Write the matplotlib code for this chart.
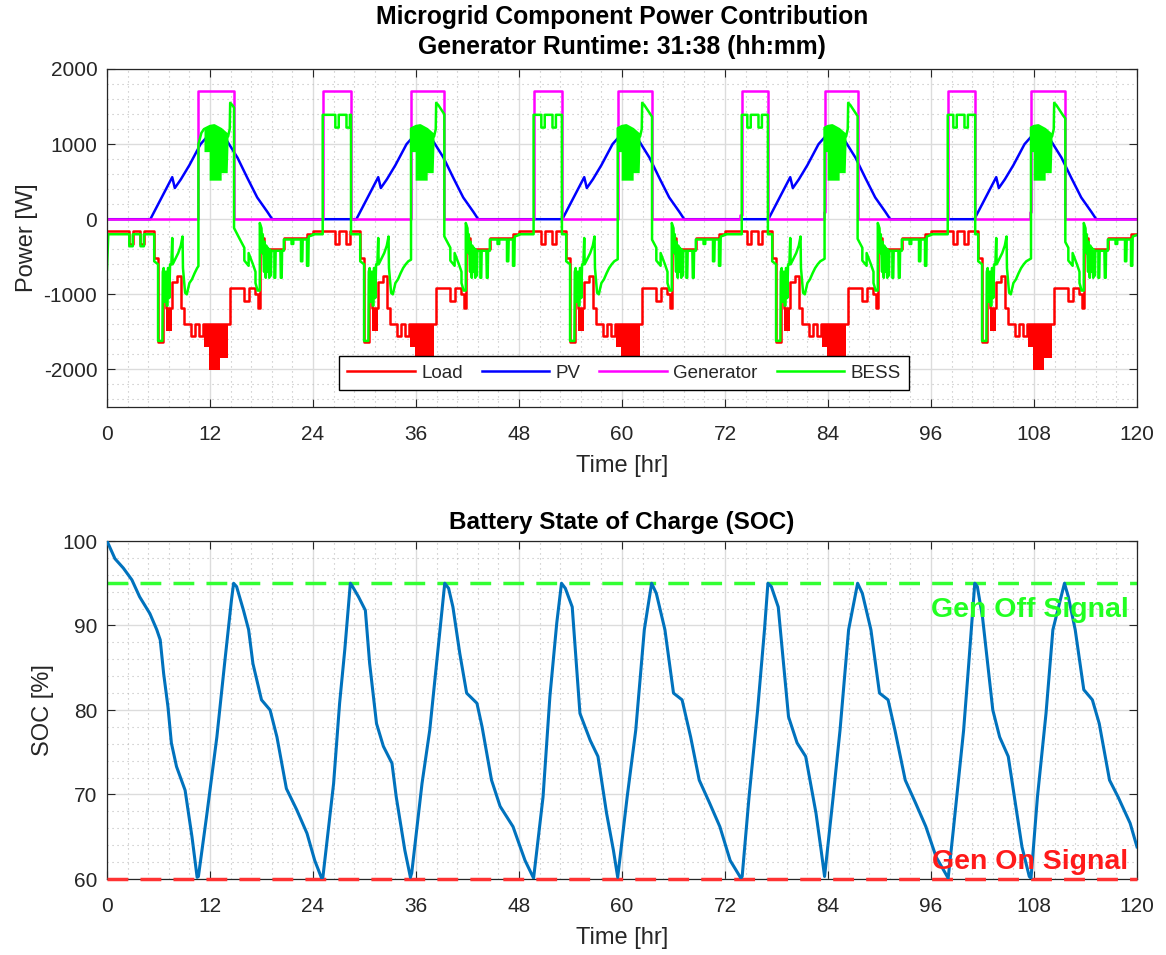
import numpy as np
import matplotlib
matplotlib.use('Agg')
import matplotlib.pyplot as plt
from matplotlib.ticker import MultipleLocator

# ------------------------------------------------------------------ data
DAY_STARTS = [0, 24, 48, 72, 96]

# Load: daily step profile (hour of day -> W, held until next step)
LOAD_STEP_T = [0.0, 2.6, 3.0, 3.9, 4.3, 5.5, 5.95, 6.55, 6.85, 7.6, 8.1, 8.65, 9.0,
               9.8, 10.2, 10.7, 11.2, 14.3, 16.0, 16.5, 17.3, 17.55, 17.8, 18.3, 20.6, 23.3]
LOAD_STEP_P = [-160, -330, -160, -330, -160, -520, -1640, -850, -1180, -830, -760, -1180, -1400,
               -1550, -1400, -1550, -1400, -915, -1090, -915, -1000, -1180, -250, -400, -245, -200]
# rapidly switching load (drawn as filled band): hour of day, lower envelope
LOAD_BLOB_T = [11.3, 11.85, 11.85, 13.2, 13.2, 14.05]
LOAD_BLOB_LO = [-1700, -1700, -2010, -2010, -1850, -1850]
LOAD_BLOB_HI = -1400
LOAD_MBLOB_T = [6.85, 7.6]
LOAD_MBLOB_LO = [-1490, -1490]
LOAD_MBLOB_HI = -1180

# PV: daily profile
PV_T = [0.0, 5.05, 7.6, 7.9, 8.6, 9.6, 10.9, 11.6, 12.3, 13.1, 14.0, 15.2, 16.35, 17.5, 18.7, 19.25, 24.0]
PV_P = [0, 0, 560, 415, 530, 720, 1000, 1090, 1140, 1110, 1040, 820, 550, 290, 95, 0, 0]

# Generator on/off windows [hr] and power [W]
GEN_ON = [10.65, 25.13, 35.42, 49.7, 59.5, 73.95, 83.6, 97.95, 107.65]
GEN_OFF = [14.8, 28.43, 39.3, 53.0, 63.5, 77.0, 87.45, 101.15, 111.65]
GEN_LEVEL = 1710
GEN_PRE_T = [73.75, 83.5, 107.5]      # short low-power start-up steps
GEN_PRE_P = [50, 100, 100]

# BESS: pieces of the daily pattern (hour of day -> W)
BESS_START_T = [0.0]
BESS_START_P = [-670]
NIGHT_T = [0.0, 2.6, 2.6, 3.0, 3.0, 3.9, 3.9, 4.3, 4.3, 5.5]
NIGHT_P = [-200, -200, -360, -360, -200, -200, -360, -360, -200, -200]
NIGHT_GEN_T = [0.0, 2.6, 2.6, 3.0, 3.0, 3.9, 3.9, 4.3, 4.3, 8.0]
NIGHT_GEN_P = [1390, 1390, 1220, 1220, 1390, 1390, 1220, 1220, 1390, 1390]
MORN_T = [5.5, 5.95, 5.95, 6.45, 6.5, 6.6, 6.65, 6.75, 6.8, 6.9, 6.95, 7.05, 7.1, 7.2, 7.25,
          7.35, 7.5, 7.6, 7.65, 8.0, 8.3, 8.6, 8.8, 8.85, 9.1, 9.3, 9.6, 9.9, 10.2, 10.5, 10.8,
          11.1, 11.4, 11.7, 12.0]
MORN_P = [-560, -600, -1620, -1620, -700, -650, -1100, -1100, -700, -700, -1150, -1150, -650,
          -650, -1050, -600, -600, -250, -600, -520, -450, -350, -230, -650, -980, -1000, -850,
          -800, -720, -650, -600, -560, -540, -520, -520]
NOON_T = [10.65, 11.0, 11.3, 12.0, 12.5, 13.3, 14.0, 14.1, 14.3, 14.35, 14.6, 15.0, 15.4, 15.8, 16.0]
NOON_P = [1000, 1150, 1200, 1240, 1250, 1200, 1130, 1100, 1200, 1550, 1520, 1450, 1380, 1320, 1300]
BLOB_T = [11.3, 11.9, 11.9, 12.5, 13.3, 13.3, 14.0, 14.1]
BLOB_TOP = [1200, 1240, 1240, 1250, 1200, 1200, 1130, 1100]
BLOB_BOT = [900, 900, 520, 520, 520, 620, 620, 1000]
AFT_T = [14.5, 15.4, 16.0, 16.0, 16.5, 16.5, 17.0, 17.3, 17.3, 17.55, 17.8]
AFT_P = [-50, -250, -380, -550, -620, -450, -600, -700, -850, -950, -950]
EVE_T = [17.8, 18.0, 18.1, 18.15, 18.3, 18.35, 18.5, 18.55, 18.7, 18.75, 18.9, 18.95, 19.1,
         19.15, 19.5, 19.5, 19.6, 19.65, 20.2, 20.25, 20.35, 20.4, 20.6, 20.6, 21.5, 21.5,
         21.7, 21.7, 22.6, 22.6, 22.75, 22.8, 23.3, 23.3, 23.45, 23.5, 24.0]
EVE_P = [-50, -120, -450, -200, -700, -300, -780, -350, -700, -380, -780, -400, -750, -420,
         -420, -780, -780, -420, -420, -780, -780, -420, -420, -270, -270, -330, -330, -270,
         -270, -560, -560, -270, -270, -620, -620, -230, -210]

# Battery state of charge [%]
SOC_T = [0, 0.93, 1.9, 2.9, 3.8, 5.0, 5.8, 6.2, 6.6, 7.1, 7.5, 8.1, 9.1, 9.9, 10.5, 10.65,
         11.6, 12.8, 13.7, 14.5, 14.75, 15.1, 15.9, 16.5, 17.0, 18.0, 19.0, 19.8, 20.9, 22.1,
         23.3, 24.2, 25.0, 25.15, 26.4, 27.1, 27.7, 28.35, 28.5, 29.3, 30.1, 30.6, 31.4, 32.2,
         33.2, 33.7, 34.7, 35.35, 35.5, 36.7, 37.6, 38.4, 39.0, 39.35, 39.8, 40.3, 41.1, 41.9,
         43.1, 43.7, 44.8, 45.8, 47.3, 48.7, 49.7, 50.8, 51.6, 52.4, 52.95, 53.4, 54.2, 55.1,
         56.3, 57.2, 58.2, 59.0, 59.5, 60.6, 61.6, 62.6, 63.45, 64.0, 65.0, 66.0, 67.0, 68.0,
         69.0, 70.2, 71.4, 72.6, 73.85, 74.0, 74.8, 75.8, 76.6, 77.0, 77.4, 78.2, 79.4, 80.4,
         81.4, 82.6, 83.2, 83.6, 84.6, 85.4, 86.4, 87.45, 88.0, 89.0, 90.0, 91.0, 91.8, 93.0,
         94.2, 95.4, 96.6, 98.0, 98.6, 99.8, 100.4, 101.1, 101.4, 102.0, 102.6, 103.2, 104.0,
         105.0, 106.0, 106.6, 107.45, 107.65, 108.4, 109.4, 110.2, 111.55, 112.0, 112.8, 113.8,
         114.8, 115.6, 116.8, 117.8, 119.2, 120.0]
SOC_V = [100, 97.9, 96.8, 95.4, 93.4, 91.4, 89.5, 88.3, 84.3, 80.4, 76.1, 73.3, 70.5, 65.0,
         60.2, 60.3, 67.4, 76.8, 85.5, 93.0, 95.0, 94.6, 91.8, 89.5, 85.5, 81.2, 80.0, 76.8,
         70.7, 68.2, 65.4, 62.2, 60.1, 60.2, 71.3, 80.8, 87.1, 95.0, 94.8, 93.4, 91.8, 85.5,
         78.4, 75.7, 73.7, 69.7, 63.4, 60.2, 60.7, 71.3, 77.6, 85.5, 91.4, 95.0, 94.4, 92.2,
         86.7, 82.0, 80.8, 78.0, 71.7, 68.6, 66.2, 62.2, 60.1, 69.7, 81.6, 90.3, 95.0, 94.4,
         92.2, 79.6, 76.4, 74.5, 67.8, 63.4, 60.2, 69.7, 77.6, 89.5, 95.0, 93.8, 89.5, 82.0,
         81.2, 76.8, 71.7, 69.0, 66.2, 62.2, 60.1, 60.3, 69.7, 80.0, 89.5, 95.0, 94.6, 92.2,
         79.2, 76.1, 74.5, 67.8, 63.4, 60.3, 69.7, 77.6, 89.5, 95.0, 93.8, 89.5, 82.0, 81.2,
         77.6, 71.7, 69.0, 66.2, 62.6, 60.1, 65.8, 77.6, 85.5, 95.0, 94.6, 91.0, 85.5, 80.0,
         76.8, 74.5, 67.8, 63.8, 60.3, 60.1, 69.7, 79.6, 89.5, 95.0, 93.4, 89.5, 82.4, 81.2,
         78.4, 71.7, 69.7, 66.6, 63.8]
SOC_GEN_OFF = 95
SOC_GEN_ON = 60

# ------------------------------------------------------------------ helpers
def piece(T, P, a, b, off):
    """Part of a read daily profile between hour a and b, shifted to day start off."""
    T = np.asarray(T, float)
    P = np.asarray(P, float)
    m = (T > a) & (T < b)
    ts = np.concatenate([[a], T[m], [b]]) + off
    ps = np.concatenate([[np.interp(a, T, P)], P[m], [np.interp(b, T, P)]])
    return list(ts), list(ps)


# Load series
load_t, load_p = [], []
for s in DAY_STARTS:
    load_t += [t + s for t in LOAD_STEP_T]
    load_p += LOAD_STEP_P
load_t.append(120.0)
load_p.append(LOAD_STEP_P[-1])

# PV series
pv_t, pv_p = [], []
for s in DAY_STARTS:
    pv_t += [t + s for t in PV_T]
    pv_p += PV_P

# Generator series
gen_t, gen_p = [0.0], [0.0]
pre = dict(zip([min(GEN_ON, key=lambda g: abs(g - p)) for p in GEN_PRE_T], zip(GEN_PRE_T, GEN_PRE_P)))
for on, off in zip(GEN_ON, GEN_OFF):
    if on in pre:
        pt, pp = pre[on]
        gen_t += [pt, pt]
        gen_p += [0, pp]
        gen_t += [on, on, off, off]
        gen_p += [pp, GEN_LEVEL, GEN_LEVEL, 0]
    else:
        gen_t += [on, on, off, off]
        gen_p += [0, GEN_LEVEL, GEN_LEVEL, 0]
gen_t.append(120.0)
gen_p.append(0.0)

# BESS series assembled from the read daily pieces and the generator windows
bess_t, bess_p = list(BESS_START_T), list(BESS_START_P)
blobs = []
for s in DAY_STARTS:
    nights = [(a - s, b - s) for a, b in zip(GEN_ON, GEN_OFF) if s <= a < s + 8]
    noons = [(a - s, b - s) for a, b in zip(GEN_ON, GEN_OFF) if s + 8 <= a < s + 24]
    n0 = 0.15 if s == 0 else 0.0
    if nights:
        a, b = nights[0]
        for T, P, x0, x1 in [(NIGHT_T, NIGHT_P, n0, a), (NIGHT_GEN_T, NIGHT_GEN_P, a, b),
                             (NIGHT_T, NIGHT_P, b, 5.5)]:
            tt, pp = piece(T, P, x0, x1, s)
            bess_t += tt
            bess_p += pp
    else:
        tt, pp = piece(NIGHT_T, NIGHT_P, n0, 5.5, s)
        bess_t += tt
        bess_p += pp
    a, b = noons[0]
    for T, P, x0, x1 in [(MORN_T, MORN_P, 5.5, a), (NOON_T, NOON_P, a, b),
                         (AFT_T, AFT_P, b, 17.8), (EVE_T, EVE_P, 17.8, 24.0)]:
        tt, pp = piece(T, P, x0, x1, s)
        bess_t += tt
        bess_p += pp
    bs = max(a, BLOB_T[0])
    bt, btop = piece(BLOB_T, BLOB_TOP, bs, BLOB_T[-1], s)
    _, bbot = piece(BLOB_T, BLOB_BOT, bs, BLOB_T[-1], s)
    blobs.append((bt, bbot, btop))

# ------------------------------------------------------------------ style
plt.rcParams['font.family'] = ['Liberation Sans', 'DejaVu Sans']
plt.rcParams['axes.unicode_minus'] = False
TXT = '#262626'


def style(ax):
    ax.set_xlim(0, 120)
    ax.xaxis.set_major_locator(MultipleLocator(12))
    ax.xaxis.set_minor_locator(MultipleLocator(2.4))
    ax.grid(which='major', color='#dcdcdc', lw=1.0, ls='-')
    ax.grid(which='minor', color='#bdbdbd', lw=0.8, ls=(0, (1, 3.5)))
    ax.set_axisbelow(True)
    ax.tick_params(which='major', direction='in', length=6, width=0.8, top=True, right=True,
                   labelsize=15, colors=TXT)
    ax.tick_params(axis='x', which='major', pad=13)
    ax.tick_params(axis='y', which='major', pad=7)
    ax.tick_params(which='minor', length=0, top=True, right=True)
    for sp in ax.spines.values():
        sp.set_color(TXT)
        sp.set_linewidth(0.9)


fig = plt.figure(figsize=(11.66, 9.55), dpi=100)
W, H = 1166, 955
ax1 = fig.add_axes([107 / W, 1 - 407 / H, 1030 / W, 338 / H])
ax2 = fig.add_axes([107 / W, 1 - 879 / H, 1030 / W, 338 / H])

# ---- top panel
LW = 1.8
l_load, = ax1.step(load_t, load_p, where='post', color='#ff0000', lw=LW, label='Load')
for s in DAY_STARTS:
    ax1.fill_between([t + s for t in LOAD_BLOB_T], LOAD_BLOB_HI, LOAD_BLOB_LO,
                     color='#ff0000', lw=0)
    ax1.fill_between([t + s for t in LOAD_MBLOB_T], LOAD_MBLOB_HI, LOAD_MBLOB_LO,
                     color='#ff0000', lw=0)
l_pv, = ax1.plot(pv_t, pv_p, color='#0000ff', lw=LW, label='PV')
l_gen, = ax1.plot(gen_t, gen_p, color='#ff00ff', lw=LW, label='Generator')
l_bess, = ax1.plot(bess_t, bess_p, color='#00ff00', lw=LW, label='BESS')
for bt, bbot, btop in blobs:
    ax1.fill_between(bt, bbot, btop, color='#00ff00', lw=0, zorder=l_bess.get_zorder())

style(ax1)
ax1.set_ylim(-2500, 2000)
ax1.yaxis.set_major_locator(MultipleLocator(1000))
ax1.yaxis.set_minor_locator(MultipleLocator(200))
ax1.set_xlabel('Time [hr]', fontsize=17, color=TXT, labelpad=8)
ax1.set_ylabel('Power [W]', fontsize=17, color=TXT, labelpad=4)
ax1.set_title('Microgrid Component Power Contribution\nGenerator Runtime: 31:38 (hh:mm)',
              fontsize=17.8, fontweight='bold', color='#000000', pad=11, linespacing=1.3)
leg = ax1.legend(handles=[l_load, l_pv, l_gen, l_bess], loc='lower center',
                 bbox_to_anchor=(0.502, 0.022), ncol=4, fontsize=13.5, handlelength=3.6,
                 handletextpad=0.35, columnspacing=1.0, borderpad=0.45, fancybox=False,
                 framealpha=1, edgecolor='#000000')
leg.get_frame().set_linewidth(1.0)
for t in leg.get_texts():
    t.set_color(TXT)

# ---- bottom panel
ax2.plot([0, 120], [SOC_GEN_OFF, SOC_GEN_OFF], color='#33ff33', lw=2.5, dashes=(6, 3.5))
ax2.plot([0, 120], [SOC_GEN_ON, SOC_GEN_ON], color='#ff3333', lw=2.5, dashes=(6, 3.5),
         clip_on=False, zorder=3)
ax2.plot(SOC_T, SOC_V, color='#0072BD', lw=2.2, zorder=4)
ax2.text(119.0, 91.0, 'Gen Off Signal', color='#22ff22', fontsize=20.5, fontweight='bold',
         ha='right', va='baseline', zorder=5)
ax2.text(119.0, 61.2, 'Gen On Signal', color='#ff1a1a', fontsize=20.5, fontweight='bold',
         ha='right', va='baseline', zorder=5)
style(ax2)
ax2.set_ylim(60, 100)
ax2.yaxis.set_major_locator(MultipleLocator(10))
ax2.yaxis.set_minor_locator(MultipleLocator(2))
ax2.set_xlabel('Time [hr]', fontsize=17, color=TXT, labelpad=8)
ax2.set_ylabel('SOC [%]', fontsize=17, color=TXT, labelpad=6)
ax2.set_title('Battery State of Charge (SOC)', fontsize=17.5, fontweight='bold',
              color='#000000', pad=9)

fig.savefig('out.png', dpi=100)
